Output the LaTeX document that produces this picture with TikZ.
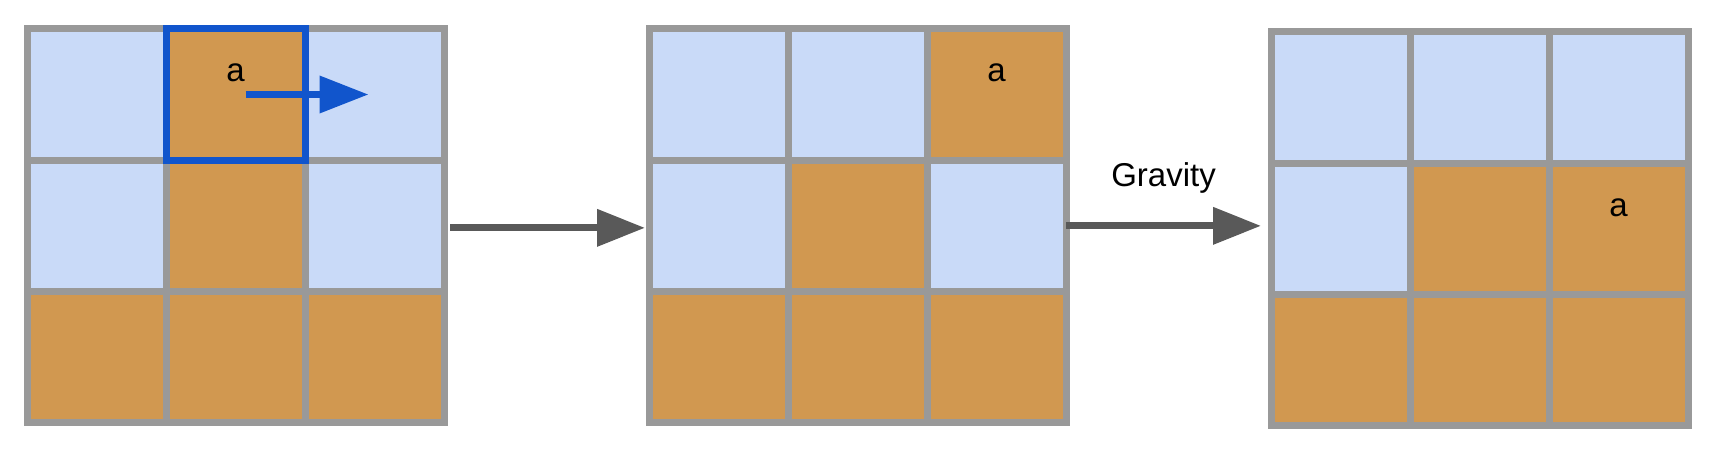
\documentclass[tikz,border=0pt]{standalone}
\usepackage{fontspec}
\setmainfont{Liberation Sans}
\usetikzlibrary{positioning,arrows.meta,calc}

\definecolor{skyfill}{HTML}{C9DAF8}
\definecolor{sandfill}{HTML}{D19850}
\definecolor{gridgray}{HTML}{999999}
\definecolor{pickblue}{HTML}{1155CC}
\definecolor{flowgray}{HTML}{595959}

\tikzset{
    cell/.style={draw=gridgray, line width=3.5pt, inner sep=0pt, outer sep=0pt,
        minimum width=69.5pt, minimum height=65.67pt},
    sky/.style={cell, fill=skyfill},
    sand/.style={cell, fill=sandfill},
    letter/.style={inner sep=0pt, text=black, font=\fontsize{16.5}{20}\selectfont},
    flow/.style={-{Triangle[length=24pt,width=18pt]}, line width=3.5pt, color=flowgray},
    pick/.style={draw=pickblue, line width=3.5pt},
    slide/.style={-{Triangle[length=24.5pt,width=18pt]}, line width=3.5pt, color=pickblue}
}

\begin{document}
\begin{tikzpicture}[x=0.5pt,y=-0.5pt]
        \useasboundingbox (0,0) rectangle (1722,462);
        % grid before the move
        \node[sky]  (a1) at (96.5,94.5) {};
        \node[sand] (a2) [right=0pt of a1] {};
        \node[sky]  (a3) [right=0pt of a2] {};
        \node[sky]  (a4) [below=0pt of a1] {};
        \node[sand] (a5) [right=0pt of a4] {};
        \node[sky]  (a6) [right=0pt of a5] {};
        \node[sand] (a7) [below=0pt of a4] {};
        \node[sand] (a8) [right=0pt of a7] {};
        \node[sand] (a9) [right=0pt of a8] {};
        \draw [pick] (a2.north west) rectangle (a2.south east);
        \node[letter] (ta) at ([yshift=10.75pt]a2.center) {a};
        \draw [slide] ([xshift=5pt]a2.center) -- ([xshift=-3pt]a3.center);
        % grid after the move
        \node[sky]  (b1) at (718.5,94.5) {};
        \node[sky]  (b2) [right=0pt of b1] {};
        \node[sand] (b3) [right=0pt of b2] {};
        \node[sky]  (b4) [below=0pt of b1] {};
        \node[sand] (b5) [right=0pt of b4] {};
        \node[sky]  (b6) [right=0pt of b5] {};
        \node[sand] (b7) [below=0pt of b4] {};
        \node[sand] (b8) [right=0pt of b7] {};
        \node[sand] (b9) [right=0pt of b8] {};
        \node[letter] (tb) at ([yshift=10.75pt]b3.center) {a};
        % grid after gravity
        \node[sky]  (c1) at (1340.5,97.5) {};
        \node[sky]  (c2) [right=0pt of c1] {};
        \node[sky]  (c3) [right=0pt of c2] {};
        \node[sky]  (c4) [below=0pt of c1] {};
        \node[sand] (c5) [right=0pt of c4] {};
        \node[sand] (c6) [right=0pt of c5] {};
        \node[sand] (c7) [below=0pt of c4] {};
        \node[sand] (c8) [right=0pt of c7] {};
        \node[sand] (c9) [right=0pt of c8] {};
        \node[letter] (tc) at ([yshift=10.5pt]c6.center) {a};
        % steps
        \draw [flow] ([xshift=3pt,yshift=-1pt]a6.east) -- ([xshift=-2pt,yshift=-1pt]b4.west);
        \draw [flow] (b6.east) -- ($(b6.east -| c4.west)+(-5pt,0)$)
            node[letter, midway, above=14.5pt] (grav) {Gravity};
\end{tikzpicture}
\end{document}
